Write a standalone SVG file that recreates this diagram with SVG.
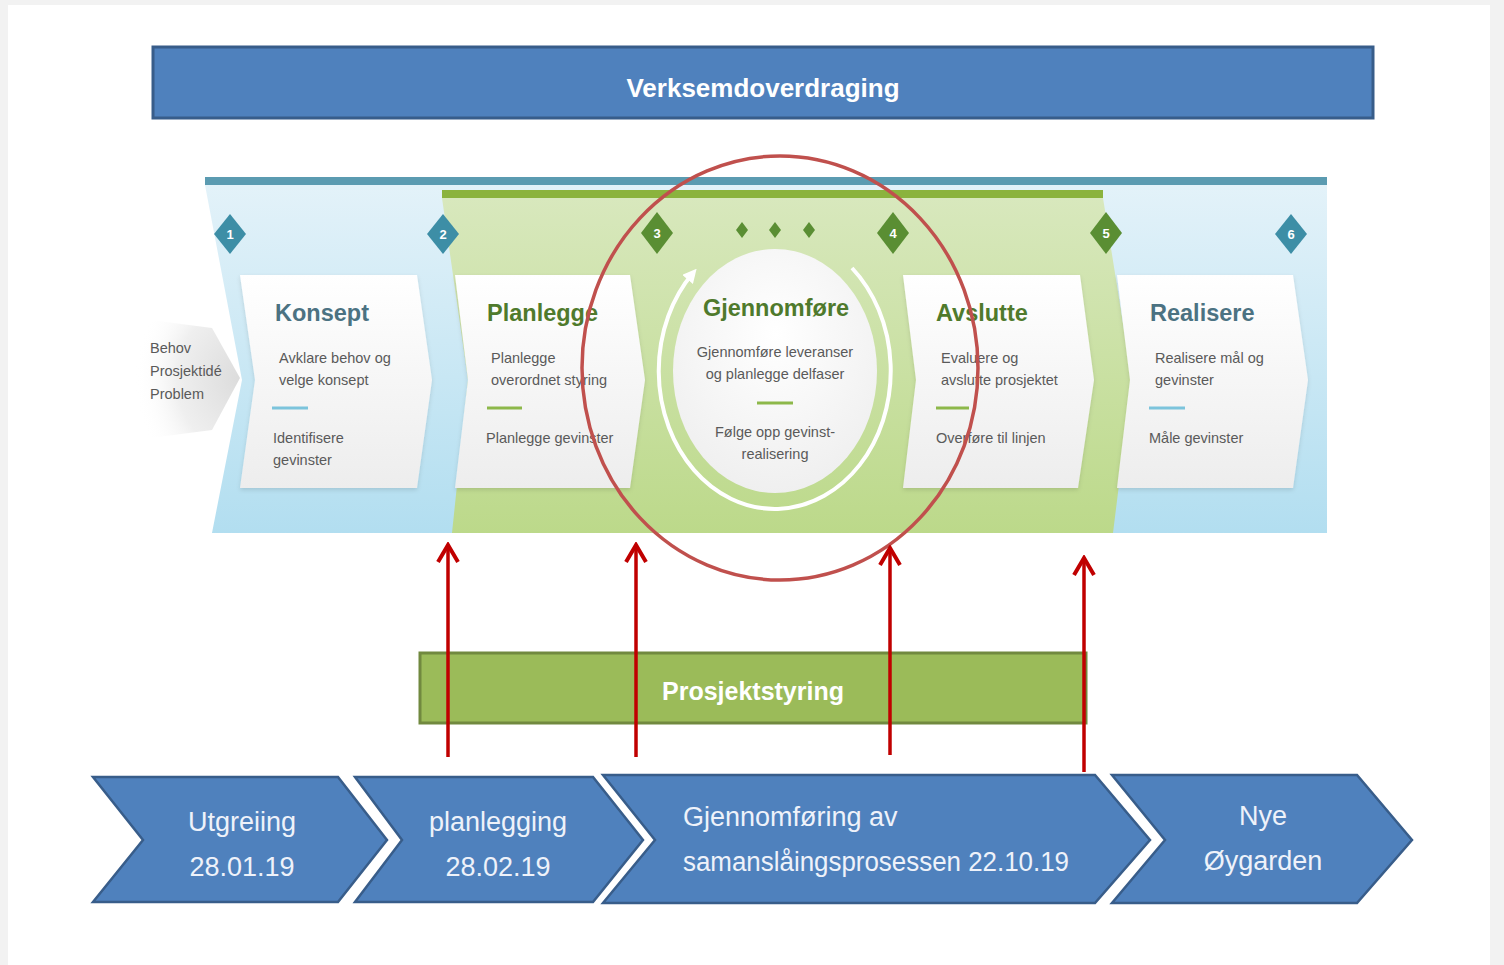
<svg xmlns="http://www.w3.org/2000/svg" width="1504" height="965" viewBox="0 0 1504 965">
<defs>
<style>
.title{font-family:"Liberation Sans",Arial,sans-serif;font-weight:bold;font-size:23.5px}
.tb{fill:#4b7282}
.tg{fill:#4f7a2c}
.body{font-family:"Liberation Sans",Arial,sans-serif;font-size:14.5px;fill:#5a5a5a}
.wb{font-family:"Liberation Sans",Arial,sans-serif;font-weight:bold;fill:#ffffff}
.chev{fill:#4f81bd;stroke:#385d8a;stroke-width:2.5}
.chevtxt{font-family:"Liberation Sans",Arial,sans-serif;font-size:27px;fill:#eef2fa}
.num{font-family:"Liberation Sans",Arial,sans-serif;font-weight:bold;font-size:13px;fill:#ffffff;text-anchor:middle}
.card{fill:url(#cardGrad);filter:url(#shadow)}
.divb{stroke:#7cc4dc;stroke-width:3}
.divg{stroke:#8db84a;stroke-width:3}
.red{stroke:#c00000;stroke-width:3.5;fill:none;marker-end:url(#redHead)}
</style>
<linearGradient id="blueBand" x1="0" y1="0" x2="0" y2="1">
<stop offset="0" stop-color="#e3f2f9"/>
<stop offset="1" stop-color="#b2def0"/>
</linearGradient>
<linearGradient id="greenBand" x1="0" y1="0" x2="0" y2="1">
<stop offset="0" stop-color="#d8e8bd"/>
<stop offset="1" stop-color="#bcd98a"/>
</linearGradient>
<linearGradient id="cardGrad" x1="0" y1="0" x2="0" y2="1">
<stop offset="0" stop-color="#ffffff"/>
<stop offset="1" stop-color="#ededed"/>
</linearGradient>
<radialGradient id="discGrad" cx="0.5" cy="0.35" r="0.7">
<stop offset="0" stop-color="#ffffff"/>
<stop offset="1" stop-color="#eeeeee"/>
</radialGradient>
<radialGradient id="behovGrad" cx="1" cy="0.5" r="1">
<stop offset="0" stop-color="#dcdcdc"/>
<stop offset="0.6" stop-color="#efefef"/>
<stop offset="1" stop-color="#ffffff" stop-opacity="0"/>
</radialGradient>
<filter id="shadow" x="-10%" y="-10%" width="120%" height="125%">
<feDropShadow dx="0" dy="2" stdDeviation="2" flood-color="#000000" flood-opacity="0.12"/>
</filter>
<marker id="redHead" viewBox="0 0 24 24" refX="21" refY="12" markerWidth="24" markerHeight="24" markerUnits="userSpaceOnUse" orient="auto">
<path d="M4,2 L21,12 L4,22" fill="none" stroke="#c00000" stroke-width="4"/>
</marker>
<marker id="whiteHead" viewBox="0 0 10 10" refX="6" refY="5" markerWidth="14" markerHeight="14" markerUnits="userSpaceOnUse" orient="auto">
<path d="M0,0 L10,5 L0,10 Z" fill="#ffffff"/>
</marker>
</defs>

<rect x="0" y="0" width="1504" height="965" fill="#f2f2f2"/>
<rect x="8" y="5" width="1482" height="960" fill="#ffffff"/>

<g id="verksemdoverdraging">
<rect x="153" y="47" width="1220" height="71" fill="#4f81bd" stroke="#385d8a" stroke-width="3"/>
<text class="wb" x="763" y="97" font-size="26" text-anchor="middle">Verksemdoverdraging</text>
</g>

<g id="process-band">
<path d="M205,185 L1327,185 L1327,533 L212,533 L242,380 Z" fill="url(#blueBand)"/>
<rect x="205" y="177" width="1122" height="8" fill="#5b9bb1"/>
<path d="M442,198 L1103,198 L1132,380 L1113,533 L452,533 L468,380 Z" fill="url(#greenBand)"/>
<rect x="442" y="190" width="661" height="8" fill="#8bb33d"/>
</g>

<g id="behov">
<path d="M135,318 L212,328 L240,378 L212,430 L135,440 Z" fill="url(#behovGrad)"/>
<text class="body" x="150" y="353">Behov</text>
<text class="body" x="150" y="376">Prosjektidé</text>
<text class="body" x="150" y="399">Problem</text>
</g>

<g id="milestones">
<path d="M230,214 L246,234 L230,254 L214,234 Z" fill="#3d8ea6"/>
<text class="num" x="230" y="239">1</text>
<path d="M443,214 L459,234 L443,254 L427,234 Z" fill="#3d8ea6"/>
<text class="num" x="443" y="239">2</text>
<path d="M657,212 L673,233 L657,254 L641,233 Z" fill="#5a8e33"/>
<text class="num" x="657" y="238">3</text>
<path d="M893,212 L909,233 L893,254 L877,233 Z" fill="#5a8e33"/>
<text class="num" x="893" y="238">4</text>
<path d="M1106,212 L1122,233 L1106,254 L1090,233 Z" fill="#5a8e33"/>
<text class="num" x="1106" y="238">5</text>
<path d="M1291,214 L1307,234 L1291,254 L1275,234 Z" fill="#3d8ea6"/>
<text class="num" x="1291" y="239">6</text>
<path d="M742,222 L748,230 L742,238 L736,230 Z" fill="#5a8e33"/>
<path d="M775,222 L781,230 L775,238 L769,230 Z" fill="#5a8e33"/>
<path d="M809,222 L815,230 L809,238 L803,230 Z" fill="#5a8e33"/>
</g>

<g id="konsept">
<path class="card" d="M240,275 L417,275 L432,380 L417,488 L240,488 L255,380 Z"/>
<text class="title tb" x="275" y="321">Konsept</text>
<text class="body" x="279" y="363">Avklare behov og</text>
<text class="body" x="279" y="385">velge konsept</text>
<line class="divb" x1="272" y1="408" x2="308" y2="408"/>
<text class="body" x="273" y="443">Identifisere</text>
<text class="body" x="273" y="465">gevinster</text>
</g>

<g id="planlegge">
<path class="card" d="M455,275 L630,275 L645,380 L630,488 L455,488 L468,380 Z"/>
<text class="title tg" x="487" y="321">Planlegge</text>
<text class="body" x="491" y="363">Planlegge</text>
<text class="body" x="491" y="385">overordnet styring</text>
<line class="divg" x1="487" y1="408" x2="522" y2="408"/>
<text class="body" x="486" y="443">Planlegge gevinster</text>
</g>

<g id="gjennomfore">
<path d="M852,268 A116,138 0 1 1 693,273" fill="none" stroke="#ffffff" stroke-width="4" marker-end="url(#whiteHead)"/>
<ellipse cx="775" cy="371" rx="102" ry="122" fill="url(#discGrad)"/>
<text class="title tg" x="776" y="316" text-anchor="middle" font-size="24">Gjennomføre</text>
<text class="body" x="775" y="357" text-anchor="middle">Gjennomføre leveranser</text>
<text class="body" x="775" y="379" text-anchor="middle">og planlegge delfaser</text>
<line class="divg" x1="757" y1="403" x2="793" y2="403"/>
<text class="body" x="775" y="437" text-anchor="middle">Følge opp gevinst-</text>
<text class="body" x="775" y="459" text-anchor="middle">realisering</text>
</g>

<g id="avslutte">
<path class="card" d="M903,275 L1080,275 L1094,380 L1078,488 L903,488 L916,380 Z"/>
<text class="title tg" x="936" y="321">Avslutte</text>
<text class="body" x="941" y="363">Evaluere og</text>
<text class="body" x="941" y="385">avslutte prosjektet</text>
<line class="divg" x1="936" y1="408" x2="969" y2="408"/>
<text class="body" x="936" y="443">Overføre til linjen</text>
</g>

<g id="realisere">
<path class="card" d="M1117,275 L1293,275 L1308,380 L1293,488 L1117,488 L1130,380 Z"/>
<text class="title tb" x="1150" y="321">Realisere</text>
<text class="body" x="1155" y="363">Realisere mål og</text>
<text class="body" x="1155" y="385">gevinster</text>
<line class="divb" x1="1149" y1="408" x2="1185" y2="408"/>
<text class="body" x="1149" y="443">Måle gevinster</text>
</g>

<g id="highlight">
<ellipse cx="780" cy="368" rx="198" ry="212" fill="none" stroke="#c0504d" stroke-width="3.5"/>
</g>

<g id="prosjektstyring">
<rect x="420" y="653" width="666" height="70" fill="#9bbb59" stroke="#71893f" stroke-width="3"/>
<text class="wb" x="753" y="700" font-size="25" text-anchor="middle" fill="#f4f8ec">Prosjektstyring</text>
</g>

<g id="utgreiing">
<path class="chev" d="M93,777 L338,777 L387,840 L338,902 L93,902 L143,840 Z"/>
<text class="chevtxt" x="242" y="831" text-anchor="middle">Utgreiing</text>
<text class="chevtxt" x="242" y="876" text-anchor="middle">28.01.19</text>
</g>

<g id="planlegging">
<path class="chev" d="M355,777 L593,777 L643,840 L593,902 L355,902 L402,840 Z"/>
<text class="chevtxt" x="498" y="831" text-anchor="middle">planlegging</text>
<text class="chevtxt" x="498" y="876" text-anchor="middle">28.02.19</text>
</g>

<g id="gjennomforing">
<path class="chev" d="M603,775 L1095,775 L1150,840 L1095,903 L603,903 L655,840 Z"/>
<text class="chevtxt" x="683" y="826">Gjennomføring av</text>
<text class="chevtxt" x="683" y="871" textLength="386" lengthAdjust="spacingAndGlyphs">samanslåingsprosessen 22.10.19</text>
</g>

<g id="nye-oygarden">
<path class="chev" d="M1112,775 L1357,775 L1412,840 L1357,903 L1112,903 L1165,840 Z"/>
<text class="chevtxt" x="1263" y="825" text-anchor="middle">Nye</text>
<text class="chevtxt" x="1263" y="870" text-anchor="middle">Øygarden</text>
</g>

<g id="connectors">
<line class="red" x1="448" y1="757" x2="448" y2="545"/>
<line class="red" x1="636" y1="757" x2="636" y2="545"/>
<line class="red" x1="890" y1="755" x2="890" y2="548"/>
<line class="red" x1="1084" y1="772" x2="1084" y2="558"/>
</g>
</svg>
